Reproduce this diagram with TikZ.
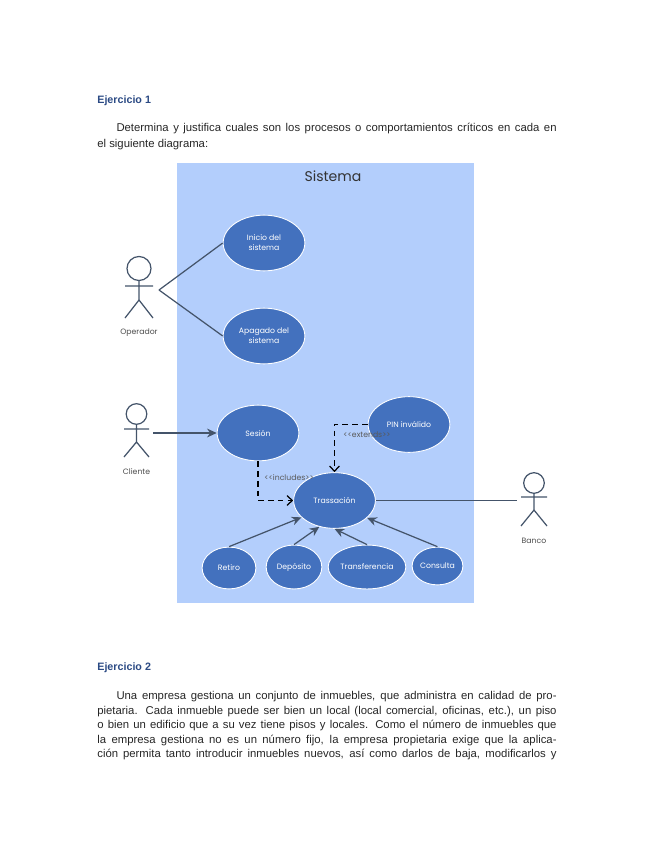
\documentclass[tikz,border=0pt]{standalone}
\usepackage{fontspec}
\setmainfont{Liberation Sans}
\newfontfamily\popfont{Poppins}
\usetikzlibrary{arrows.meta,shapes.geometric}
\definecolor{sysblue}{HTML}{B3CEFC}
\definecolor{caseblue}{HTML}{4371BE}
\definecolor{linegray}{HTML}{44546A}
\definecolor{headblue}{HTML}{2B4A84}
\begin{document}
\begin{tikzpicture}[
    x=0.02cm, y=-0.02cm,
    usecase/.style={ellipse, draw=white, line width=0.5pt, fill=caseblue, text=white, inner sep=0pt, align=center, font=\popfont\fontsize{4.4}{5.6}\selectfont},
    actorname/.style={text=black!70, inner sep=0pt, font=\popfont\fontsize{4.4}{6}\selectfont},
    stereo/.style={text=black!65, inner sep=0pt, font=\popfont\fontsize{4.4}{6}\selectfont},
    assoc/.style={linegray, line width=0.7pt},
    gen/.style={linegray, line width=0.7pt, -{Stealth[length=5.5pt,width=5pt]}},
    dep/.style={black, line width=0.7pt, dash pattern=on 3.2pt off 2.4pt, -{Straight Barb[length=3pt,width=5.5pt]}},
    actorline/.style={linegray, line width=0.7pt},
    heading/.style={headblue, inner sep=0pt, anchor=west, font=\fontsize{6.1}{8}\selectfont\bfseries},
    bodytext/.style={black!85, inner sep=0pt, anchor=north west, text width=261.4pt, align=justify}
]
\useasboundingbox (0,0) rectangle (655,848);

% texto de la pagina
\node[heading] (ej1) at (97,100.5) {Ejercicio 1};
\node[bodytext, font=\fontsize{6.45}{8.75}\selectfont] (par1) at (97,123) {\hspace*{10.9pt}Determina y justifica cuales son los procesos o comportamientos críticos en cada en\linebreak el siguiente diagrama:};
\node[heading] (ej2) at (97,667.5) {Ejercicio 2};
\node[bodytext, font=\fontsize{6.45}{8.3}\selectfont] (par2) at (97,691) {\hspace*{10.9pt}Una empresa gestiona un conjunto de inmuebles, que administra en calidad de pro-\linebreak pietaria. Cada inmueble puede ser bien un local (local comercial, oficinas, etc.), un piso\linebreak o bien un edificio que a su vez tiene pisos y locales. Como el número de inmuebles que\linebreak la empresa gestiona no es un número fijo, la empresa propietaria exige que la aplica-\linebreak ción permita tanto introducir inmuebles nuevos, así como darlos de baja, modificarlos y\linebreak};

% sistema
\fill[sysblue] (177,163) rectangle (474,603);
\node[inner sep=0pt, text=black!80, font=\popfont\fontsize{8}{10}\selectfont] (sistema) at (333,176.5) {Sistema};

% casos de uso
\node[usecase, minimum width=46.5pt, minimum height=31.7pt] (inicio) at (264,243) {Inicio del\\sistema};
\node[usecase, minimum width=46.5pt, minimum height=31.7pt] (apagado) at (264,336) {Apagado del\\sistema};
\node[usecase, minimum width=46.5pt, minimum height=31.7pt] (sesion) at (258,433) {Sesión};
\node[usecase, minimum width=46.5pt, minimum height=31.7pt] (trans) at (334.5,500.5) {Trassación};
\node[usecase, minimum width=46.5pt, minimum height=31.7pt] (pin) at (409,424.5) {PIN inválido};
\node[usecase, minimum width=30.6pt, minimum height=23.8pt] (retiro) at (229,568) {Retiro};
\node[usecase, minimum width=31.7pt, minimum height=25pt] (deposito) at (294,567) {Depósito};
\node[usecase, minimum width=44.2pt, minimum height=25pt] (transf) at (367,567) {Transferencia};
\node[usecase, minimum width=28.9pt, minimum height=21.5pt] (consulta) at (437.5,566) {Consulta};

% actores
\draw[actorline] (139,268.5) circle (12);
\draw[actorline] (139,280.5) -- (139,300) (125,286) -- (153,286) (125,318) -- (139,300) -- (153,318);
\node[actorname] (operador) at (139,333) {Operador};
\draw[actorline] (136.5,414) circle (10.3);
\draw[actorline] (136.5,424.3) -- (136.5,442) (124,429) -- (149,429) (124,457) -- (136.5,442) -- (149,457);
\node[actorname] (cliente) at (136.5,472) {Cliente};
\draw[actorline] (534,483) circle (10.3);
\draw[actorline] (534,493.3) -- (534,510) (521,497) -- (547,497) (521,526) -- (534,510) -- (547,526);
\node[actorname] (banco) at (534,541) {Banco};

% puntos libres
\coordinate (opfin) at (159,290);
\coordinate (clifin) at (153,433);
\coordinate (banfin) at (517,500.5);

% conectores
\draw[assoc] (opfin) -- (inicio.west);
\draw[assoc] (opfin) -- (apagado.west);
\draw[gen] (clifin) -- (sesion.west);
\draw[assoc] (trans.east) -- (banfin);
\draw[dep] (sesion.south) |- (trans.west);
\draw[dep] (pin.west) -| (trans.north);
\draw[gen] (retiro.north) -- (trans.207);
\draw[gen] (deposito.north) -- (trans.240);
\draw[gen] (transf.north) -- (trans.south);
\draw[gen] (consulta.north) -- (trans.-28);

% estereotipos
\node[stereo] (incl) at (289,478) {<<includes>>};
\node[stereo] (ext) at (367,434.5) {<<extends>>};
\end{tikzpicture}
\end{document}
